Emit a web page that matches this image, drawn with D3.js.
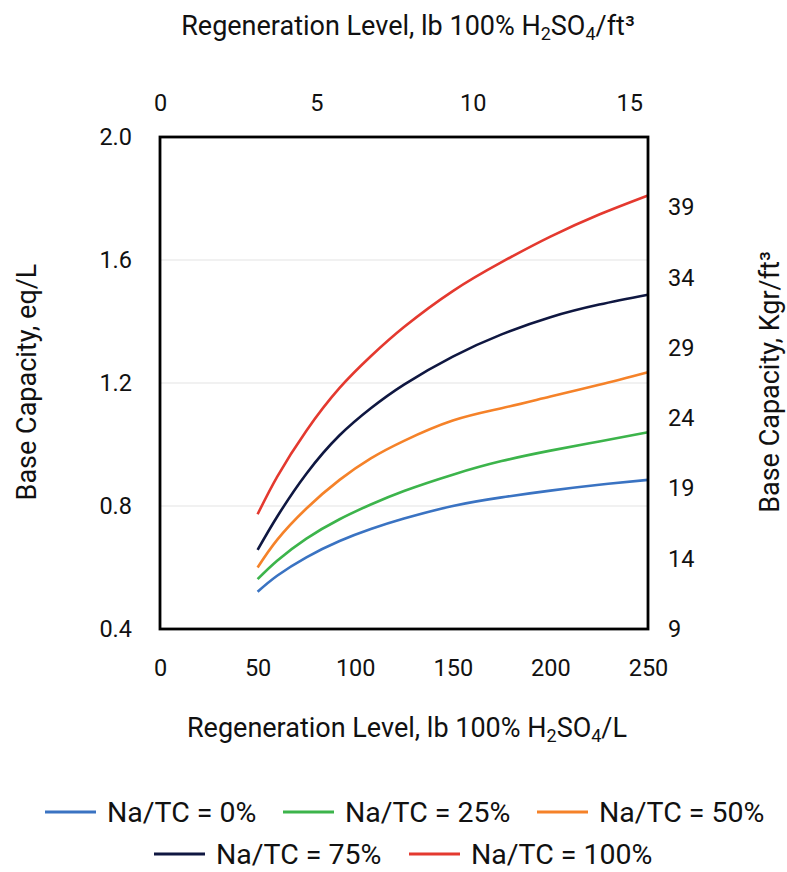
<!DOCTYPE html>
<html>
<head>
<meta charset="utf-8">
<script src="https://cdn.jsdelivr.net/npm/d3@7"></script>
<style>
  body { margin: 0; background: #fff; }
  text { font-family: Roboto, "Noto Sans", sans-serif; fill: #111; }
</style>
</head>
<body>
<div id="chart"></div>
<script>
// regeneration level, g/L (bottom axis)
const regen = [50, 60, 75, 92, 108, 125, 150, 175, 200, 225, 250];

// base capacity, eq/L
const na0   = [0.521, 0.573, 0.633, 0.686, 0.725, 0.759, 0.800, 0.828, 0.850, 0.869, 0.885];
const na25  = [0.562, 0.622, 0.694, 0.757, 0.805, 0.849, 0.902, 0.946, 0.980, 1.010, 1.040];
const na50  = [0.600, 0.690, 0.792, 0.885, 0.955, 1.012, 1.078, 1.118, 1.156, 1.194, 1.235];
const na75  = [0.657, 0.765, 0.905, 1.030, 1.118, 1.195, 1.286, 1.358, 1.414, 1.455, 1.487];
const na100 = [0.773, 0.895, 1.045, 1.184, 1.287, 1.382, 1.499, 1.593, 1.676, 1.748, 1.810];

const seriesNames = ["Na/TC = 0%", "Na/TC = 25%", "Na/TC = 50%", "Na/TC = 75%", "Na/TC = 100%"];
const seriesColors = ["#3a73c2", "#3cb44b", "#f58229", "#0f1741", "#e4392f"];

const bottomTicks = [0, 50, 100, 150, 200, 250];
const topTicks = [0, 5, 10, 15];
const leftTicks = [0.4, 0.8, 1.2, 1.6, 2.0];
const rightTicks = [9, 14, 19, 24, 29, 34, 39];

const W = 787, H = 872;
const plot = { left: 160, right: 648, top: 137, bottom: 629 };

const svg = d3.select("#chart").append("svg")
  .attr("width", W)
  .attr("height", H);

const x = d3.scaleLinear().domain([0, 250]).range([plot.left, plot.right]);
const xTop = d3.scaleLinear().domain([0, 15.6]).range([plot.left, plot.right]);
const y = d3.scaleLinear().domain([0.4, 2.0]).range([plot.bottom, plot.top]);
const yRight = d3.scaleLinear().domain([9, 44]).range([plot.bottom, plot.top]);

// gridlines
svg.append("g")
  .selectAll("line")
  .data([0.8, 1.2, 1.6])
  .enter()
  .append("line")
  .attr("x1", plot.left)
  .attr("x2", plot.right)
  .attr("y1", d => y(d))
  .attr("y2", d => y(d))
  .attr("stroke", "#ececec")
  .attr("stroke-width", 1.5);

// axes (labels only, no tick marks)
const styleAxis = g => {
  g.select(".domain").remove();
  g.selectAll(".tick line").remove();
  g.selectAll(".tick text")
    .style("font-family", "Roboto, sans-serif")
    .style("font-size", "23.5px")
    .attr("fill", "#111");
};

svg.append("g")
  .attr("transform", `translate(0, ${plot.bottom + 30})`)
  .call(d3.axisBottom(x).tickValues(bottomTicks).tickSize(0).tickPadding(0))
  .call(styleAxis);

svg.append("g")
  .attr("transform", `translate(0, ${plot.top - 26})`)
  .call(d3.axisTop(xTop).tickValues(topTicks).tickSize(0).tickPadding(0))
  .call(styleAxis);

svg.append("g")
  .attr("transform", `translate(${plot.left - 28}, 0)`)
  .call(d3.axisLeft(y).tickValues(leftTicks).tickFormat(d3.format(".1f")).tickSize(0).tickPadding(0))
  .call(styleAxis);

svg.append("g")
  .attr("transform", `translate(${plot.right + 20}, 0)`)
  .call(d3.axisRight(yRight).tickValues(rightTicks).tickSize(0).tickPadding(0))
  .call(styleAxis);

// curves
const allSeries = [na0, na25, na50, na75, na100];
const line = d3.line()
  .x((d, i) => x(regen[i]))
  .y(d => y(d))
  .curve(d3.curveNatural);

svg.append("g")
  .selectAll("path")
  .data(allSeries)
  .enter()
  .append("path")
  .attr("d", line)
  .attr("fill", "none")
  .attr("stroke", (d, i) => seriesColors[i])
  .attr("stroke-width", 2.6);

// plot frame
svg.append("rect")
  .attr("x", plot.left)
  .attr("y", plot.top)
  .attr("width", plot.right - plot.left)
  .attr("height", plot.bottom - plot.top)
  .attr("fill", "none")
  .attr("stroke", "#000")
  .attr("stroke-width", 2.8);

// titles with subscripts
const addTitle = (tx, ty, parts, rotate) => {
  const t = svg.append("text")
    .attr("text-anchor", "middle")
    .style("font-size", "27px")
    .attr("transform", `translate(${tx}, ${ty})` + (rotate ? ` rotate(${rotate})` : ""));
  parts.forEach(p => {
    t.append("tspan")
      .attr("baseline-shift", p.sub ? "-30%" : null)
      .style("font-size", p.sub ? "18px" : null)
      .text(p.t);
  });
};

addTitle(408, 35, [{ t: "Regeneration Level, lb 100% H" }, { t: "2", sub: true }, { t: "SO" }, { t: "4", sub: true }, { t: "/ft³" }]);
addTitle(407, 737, [{ t: "Regeneration Level, lb 100% H" }, { t: "2", sub: true }, { t: "SO" }, { t: "4", sub: true }, { t: "/L" }]);
addTitle(36, 382, [{ t: "Base Capacity, eq/L" }], -90);
addTitle(779, 382, [{ t: "Base Capacity, Kgr/ft³" }], -90);

// legend
const legendPos = [
  { x: 45, y: 812 }, { x: 283, y: 812 }, { x: 537, y: 812 },
  { x: 154, y: 854 }, { x: 409, y: 854 }
];
const legend = svg.append("g")
  .selectAll("g")
  .data(seriesNames)
  .enter()
  .append("g")
  .attr("transform", (d, i) => `translate(${legendPos[i].x}, ${legendPos[i].y})`);

legend.append("line")
  .attr("x1", 0).attr("x2", 51)
  .attr("stroke", (d, i) => seriesColors[i])
  .attr("stroke-width", 3);

legend.append("text")
  .attr("x", 62)
  .attr("dy", "0.36em")
  .style("font-size", "28.5px")
  .text(d => d);
</script>
</body>
</html>
